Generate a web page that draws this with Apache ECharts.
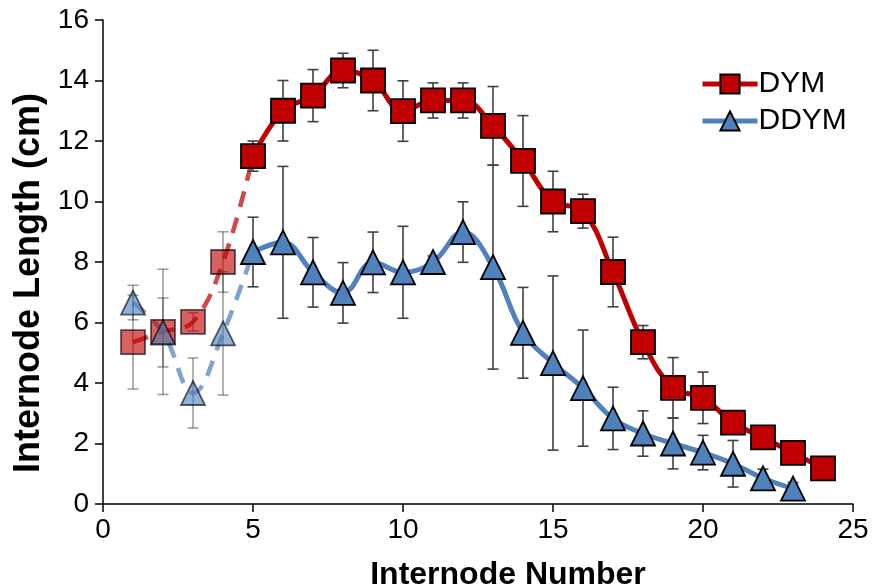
<!DOCTYPE html>
<html>
<head>
<meta charset="utf-8">
<script src="https://cdn.jsdelivr.net/npm/echarts@6/dist/echarts.min.js"></script>
<style>
html,body{margin:0;padding:0;background:#fff;}
#chart{width:875px;height:588px;}
</style>
</head>
<body>
<div id="chart"></div>
<script>
// ---- data ----
var internodes = [1,2,3,4,5,6,7,8,9,10,11,12,13,14,15,16,17,18,19,20,21,22,23,24];
var dymValues = [5.35,5.69,6.02,8.0,11.5,13.0,13.5,14.33,14.0,12.99,13.34,13.34,12.5,11.34,10.0,9.68,7.67,5.35,3.84,3.51,2.69,2.2,1.69,1.18];
var dymErrors = [1.55,2.07,0.3,1.0,0.5,1.0,0.86,0.57,1.0,1.0,0.58,0.58,1.3,1.5,1.0,0.56,1.15,0.55,1.0,0.85,0.3,0.3,0.2,0.2];
var ddymValues = [6.66,5.67,3.67,5.64,8.33,8.65,7.66,6.98,7.99,7.66,8.0,8.99,7.83,5.66,4.66,3.83,2.83,2.33,2.0,1.7,1.33,0.85,0.51];
var ddymErrors = [0.57,1.14,1.16,2.04,1.15,2.51,1.15,1.0,1.0,1.52,0.2,1.0,3.37,1.5,2.88,1.92,1.03,0.75,0.84,0.57,0.77,0.3,0.2];
var fadedCount = 4; // internodes 1-4 are drawn faded with dashed connection
var seriesNames = ['DYM','DDYM'];
var xTicks = [0,5,10,15,20,25];
var yTicks = [0,2,4,6,8,10,12,14,16];

var RED = '#C00000', BLUE = '#4F81BD';
var FONT = "'Liberation Sans', Arial, sans-serif";

function pairs(vals, from, to) {
  var out = [];
  for (var i = from; i < Math.min(to, vals.length); i++) out.push([internodes[i], vals[i]]);
  return out;
}
function errData(vals, errs, from, to) {
  var out = [];
  for (var i = from; i < Math.min(to, vals.length); i++) out.push([internodes[i], vals[i] - errs[i], vals[i] + errs[i]]);
  return out;
}
function errRender(opacity) {
  return function (params, api) {
    var x = api.value(0), lo = api.value(1), hi = api.value(2);
    var pLo = api.coord([x, lo]), pHi = api.coord([x, hi]);
    var hw = 5.5;
    var st = {stroke: '#404040', lineWidth: 1.6, opacity: opacity};
    return {type: 'group', children: [
      {type: 'line', shape: {x1: pLo[0], y1: pLo[1], x2: pHi[0], y2: pHi[1]}, style: st},
      {type: 'line', shape: {x1: pLo[0]-hw, y1: pLo[1], x2: pLo[0]+hw, y2: pLo[1]}, style: st},
      {type: 'line', shape: {x1: pHi[0]-hw, y1: pHi[1], x2: pHi[0]+hw, y2: pHi[1]}, style: st}
    ]};
  };
}

var chart = echarts.init(document.getElementById('chart'), null, {renderer: 'canvas'});
var option = {
  animation: false,
  backgroundColor: '#fff',
  grid: {left: 103, right: 22, top: 20, bottom: 84, containLabel: false, outerBoundsMode: 'none'},
  legend: {
    data: seriesNames,
    orient: 'vertical',
    left: 695, top: 64,
    itemWidth: 55, itemHeight: 24, itemGap: 7,
    lineStyle: {width: 5},
    textStyle: {fontFamily: FONT, fontSize: 30, color: '#000', padding: [0,0,0,-4]}
  },
  xAxis: {
    type: 'value', min: xTicks[0], max: xTicks[xTicks.length-1], interval: 5,
    name: 'Internode Number', nameLocation: 'middle', nameGap: 55,
    nameTextStyle: {fontFamily: FONT, fontSize: 32, fontWeight: 'bold', color: '#000', padding: [0,0,0,60]},
    axisLine: {lineStyle: {color: '#000', width: 1.5}},
    axisTick: {show: true, length: 8, lineStyle: {color: '#000', width: 1.5}},
    axisLabel: {fontFamily: FONT, fontSize: 28, color: '#000', margin: 12},
    splitLine: {show: false}
  },
  yAxis: {
    type: 'value', min: yTicks[0], max: yTicks[yTicks.length-1], interval: 2,
    name: 'Internode Length (cm)', nameLocation: 'middle', nameGap: 55,
    nameTextStyle: {fontFamily: FONT, fontSize: 36, fontWeight: 'bold', color: '#000', padding: [0,42,0,0]},
    axisLine: {show: true, lineStyle: {color: '#000', width: 1.5}},
    axisTick: {show: true, length: 8, lineStyle: {color: '#000', width: 1.5}},
    axisLabel: {fontFamily: FONT, fontSize: 28, color: '#000', margin: 14},
    splitLine: {show: false}
  },
  series: [
    {type: 'line', name: 'DYM early', data: pairs(dymValues, 0, fadedCount + 1), smooth: 0.4,
     symbol: 'none', z: 1, lineStyle: {color: RED, width: 4.5, type: [16, 11], opacity: 0.72}, silent: true},
    {type: 'line', name: 'DDYM early', data: pairs(ddymValues, 0, fadedCount + 1), smooth: 0.4,
     symbol: 'none', z: 1, lineStyle: {color: BLUE, width: 4.5, type: [16, 11], opacity: 0.72}, silent: true},
    {type: 'custom', name: 'DYM err', data: errData(dymValues, dymErrors, fadedCount, 99), renderItem: errRender(1), z: 2, silent: true},
    {type: 'custom', name: 'DDYM err', data: errData(ddymValues, ddymErrors, fadedCount, 99), renderItem: errRender(1), z: 2, silent: true},
    {type: 'custom', name: 'DYM err early', data: errData(dymValues, dymErrors, 0, fadedCount), renderItem: errRender(0.5), z: 2, silent: true},
    {type: 'custom', name: 'DDYM err early', data: errData(ddymValues, ddymErrors, 0, fadedCount), renderItem: errRender(0.5), z: 2, silent: true},
    {type: 'line', name: seriesNames[0], data: pairs(dymValues, fadedCount, 99), smooth: 0.4,
     symbol: 'rect', symbolSize: 24, z: 3,
     lineStyle: {color: RED, width: 5}, itemStyle: {color: RED, borderColor: '#000', borderWidth: 1.8}},
    {type: 'line', name: seriesNames[1], data: pairs(ddymValues, fadedCount, 99), smooth: 0.4,
     symbol: 'triangle', symbolSize: 24, z: 3,
     lineStyle: {color: BLUE, width: 5}, itemStyle: {color: BLUE, borderColor: '#000', borderWidth: 1.8}},
    {type: 'scatter', name: 'DYM early pts', data: pairs(dymValues, 0, fadedCount), symbol: 'rect', symbolSize: 24, z: 4,
     itemStyle: {color: RED, borderColor: '#000', borderWidth: 1.8, opacity: 0.62}, silent: true},
    {type: 'scatter', name: 'DDYM early pts', data: pairs(ddymValues, 0, fadedCount), symbol: 'triangle', symbolSize: 24, z: 4,
     itemStyle: {color: BLUE, borderColor: '#000', borderWidth: 1.8, opacity: 0.62}, silent: true}
  ]
};
chart.setOption(option);
</script>
</body>
</html>
